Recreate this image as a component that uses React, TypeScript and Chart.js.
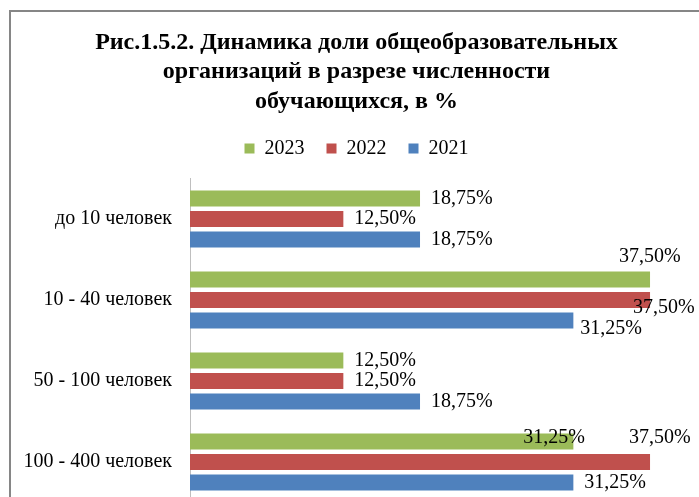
import React, { useEffect, useRef } from "react";
import { Chart, registerables } from "chart.js";

Chart.register(...registerables);

// ---- data ----
const categories = ["до 10 человек", "10 - 40 человек", "50 - 100 человек", "100 - 400 человек"];
const seriesNames = ["2023", "2022", "2021"];
const values2023 = [18.75, 37.5, 12.5, 31.25];
const values2022 = [12.5, 37.5, 12.5, 37.5];
const values2021 = [18.75, 31.25, 18.75, 31.25];
const titleLines = [
  "Рис.1.5.2. Динамика доли общеобразовательных",
  "организаций в разрезе численности",
  "обучающихся, в %",
];
const xMin = 0;
const xMax = 40;

// ---- style ----
const seriesColors = ["#9BBB59", "#C0504D", "#4F81BD"];
const FONT = "'Liberation Serif', 'Times New Roman', serif";
const CANVAS_W = 720;
const CANVAS_H = 520;

// manual data-label nudges, keyed "dataset-index" -> [dx, dy] (as placed in the original)
const labelNudges: Record<string, [number, number]> = {
  "0-1": [-42, -23],
  "1-1": [-28, 8],
  "2-1": [-4, 8],
  "0-3": [-61, -4],
  "1-3": [-32, -24],
};

const fmt = (v: number) => v.toFixed(2).replace(".", ",") + "%";

const framePlugin = {
  id: "frameAndLabels",
  beforeDraw(chart: any) {
    const ctx = chart.ctx;
    ctx.save();
    ctx.fillStyle = "#ffffff";
    ctx.fillRect(0, 0, chart.width, chart.height);
    ctx.strokeStyle = "#868686";
    ctx.lineWidth = 2;
    ctx.strokeRect(10, 11, chart.width + 40, chart.height + 40);
    ctx.restore();
  },
  afterDatasetsDraw(chart: any) {
    const ctx = chart.ctx;
    ctx.save();
    ctx.font = `20px ${FONT}`;
    ctx.fillStyle = "#000000";
    ctx.textAlign = "left";
    ctx.textBaseline = "middle";
    chart.data.datasets.forEach((ds: any, di: number) => {
      const meta = chart.getDatasetMeta(di);
      meta.data.forEach((bar: any, i: number) => {
        const nudge = labelNudges[`${di}-${i}`] || [0, 0];
        ctx.fillText(fmt(ds.data[i]), bar.x + 11 + nudge[0], bar.y + nudge[1]);
      });
    });
    ctx.restore();
  },
};

export default function App() {
  const ref = useRef<HTMLCanvasElement | null>(null);

  useEffect(() => {
    if (!ref.current) return;
    const seriesValues = [values2023, values2022, values2021];
    const chart = new Chart(ref.current, {
      type: "bar",
      data: {
        labels: categories,
        datasets: seriesNames.map((name, k) => ({
          label: name,
          data: seriesValues[k],
          backgroundColor: seriesColors[k],
          borderWidth: 0,
          categoryPercentage: 0.76,
          barPercentage: 0.78,
        })),
      },
      options: {
        indexAxis: "y",
        responsive: false,
        animation: false,
        events: [],
        layout: { padding: { left: 0, right: 7, top: 0, bottom: 17.5 } },
        plugins: {
          title: {
            display: true,
            text: titleLines,
            color: "#000000",
            font: { family: FONT, size: 24, weight: "bold", lineHeight: 1.23 },
            padding: { top: 28, bottom: 0 },
          },
          legend: {
            display: true,
            position: "top",
            labels: {
              boxWidth: 10,
              boxHeight: 10,
              padding: 22,
              color: "#000000",
              font: { family: FONT, size: 20 },
            },
          },
          tooltip: { enabled: false },
        },
        scales: {
          x: {
            position: "top",
            min: xMin,
            max: xMax,
            ticks: { display: false },
            grid: { display: false, drawTicks: true, tickLength: 9.9 },
            border: { display: false },
          },
          y: {
            position: "left",
            grid: { display: false, drawTicks: false },
            border: { display: true, color: "#BFBFBF", width: 1 },
            ticks: { color: "#000000", font: { family: FONT, size: 20 }, padding: 18 },
            afterFit: (s: any) => {
              s.width = 190;
              s.paddingTop = 0;
              s.paddingBottom = 0;
            },
          },
          yRight: {
            type: "category",
            axis: "y",
            position: "right",
            grid: { display: false, drawTicks: false },
            border: { display: false },
            ticks: { display: false },
            afterFit: (s: any) => {
              s.width = 32.3;
              s.paddingTop = 0;
              s.paddingBottom = 0;
            },
          },
        },
      },
      plugins: [framePlugin],
    } as any);
    return () => chart.destroy();
  }, []);

  return (
    <div
      style={{
        position: "fixed",
        left: 0,
        top: 0,
        width: 699,
        height: 497,
        overflow: "hidden",
        background: "#ffffff",
      }}
    >
      <canvas
        ref={ref}
        width={CANVAS_W}
        height={CANVAS_H}
        style={{ display: "block", width: CANVAS_W, height: CANVAS_H }}
      />
    </div>
  );
}
